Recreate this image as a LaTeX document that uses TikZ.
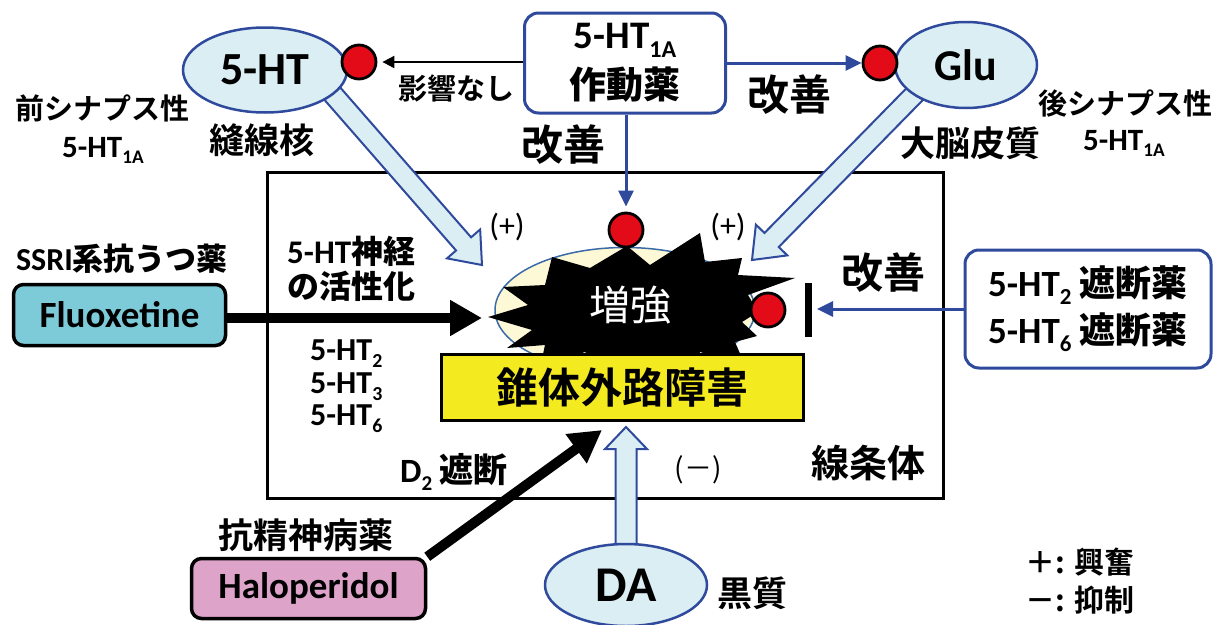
\documentclass[tikz,border=0pt]{standalone}
\usepackage{fontspec}
\usepackage{graphicx}
\setmainfont{Carlito}
\newfontfamily\jpb{Noto Sans CJK JP Bold}
\newfontfamily\jpr{Noto Sans CJK JP}
\usetikzlibrary{shapes.geometric,arrows.meta,calc,backgrounds}
\newcommand\fs[1]{\fontsize{#1}{#1}\selectfont}
\newcommand\J[1]{{\jpb #1}}
\newcommand\sbs[1]{\raisebox{-0.22em}{\scalebox{0.62}{#1}}}
\definecolor{myblue}{HTML}{2F4A9C}
\definecolor{lightb}{HTML}{DAEEF3}
\definecolor{myred}{HTML}{E30B17}
\definecolor{fluc}{HTML}{7DCBD9}
\definecolor{halc}{HTML}{DDA3C9}
\definecolor{yel}{HTML}{F4EA20}
\definecolor{cream}{HTML}{FDF8D6}
\definecolor{ellb}{HTML}{3A6AA8}
% hollow arrow: start, tip, half shaft, half head, head length
\newcommand\harrow[5]{%
  \coordinate (hA) at (#1);
  \coordinate (hB) at (#2);
  \coordinate (hC) at ($(hB)!#5!(hA)$);
  \draw[hol] ($(hA)!#3!90:(hB)$) -- ($(hC)!#3!-90:(hA)$) -- ($(hC)!#4!-90:(hA)$) -- (hB)
     -- ($(hC)!#4!90:(hA)$) -- ($(hC)!#3!90:(hA)$) -- ($(hA)!#3!-90:(hB)$) -- cycle;
}
\begin{document}
\begin{tikzpicture}[x=1pt,y=-1pt,
  ell/.style={ellipse, draw=myblue, line width=2.5pt, fill=lightb, inner sep=0pt},
  redc/.style={circle, draw=black, line width=2.8pt, fill=myred, minimum size=34pt, inner sep=0pt},
  rbox/.style={draw=myblue, line width=3pt, rounded corners=14pt, fill=white, inner sep=0pt},
  dbox/.style={draw=black, line width=3.5pt, rounded corners=10pt, inner sep=0pt, font=\bfseries\fs{37}},
  lab/.style={inner sep=0pt},
  jl/.style={inner sep=0pt, font=\jpb},
  bigarr/.style={draw=black, line width=10pt, -{Triangle[length=32pt,width=34pt]}},
  barr/.style={draw=myblue, line width=3pt, -{Triangle[length=16pt,width=15pt]}},
  tarr/.style={draw=black, line width=2pt, -{Triangle[length=12pt,width=12pt]}},
  hol/.style={draw=myblue, line width=2pt, fill=lightb, line join=miter}
]
\useasboundingbox (0,0) rectangle (1213,624);

% ellipses
\node[ell, minimum width=164pt, minimum height=85pt, font=\bfseries\fs{46}] (ht) at (265,70) {5-HT};
\node[ell, minimum width=142pt, minimum height=86pt, font=\bfseries\fs{44}] (glu) at (966,65) {Glu};
\node[ell, minimum width=162pt, minimum height=82pt, font=\bfseries\fs{50}] (da) at (626,585) {DA};

% boxes
\node[rbox, minimum width=201pt, minimum height=100pt, align=center, font=\bfseries\fontsize{39}{50}\selectfont] (ag) at (625,63) {5-HT\sbs{1A}\\\J{\fs{37}作動薬}};
\node[rbox, minimum width=246pt, minimum height=118pt, align=center, font=\bfseries\fontsize{37}{47}\selectfont] (ant) at (1088,309) {5-HT\sbs{2} \J{\fs{36}遮断薬}\\5-HT\sbs{6} \J{\fs{36}遮断薬}};
\node[dbox, fill=fluc, minimum width=212pt, minimum height=61pt] (flu) at (119.5,315) {Fluoxetine};
\node[dbox, fill=halc, minimum width=234pt, minimum height=60pt] (hal) at (308.5,588.5) {Haloperidol};

% centre
\node[ellipse, draw=ellb, line width=1.5pt, fill=cream, minimum width=260pt, minimum height=125pt] (cre) at (625,310) {};
\fill[black] (627,246) -- (650,265) -- (700,233) -- (705,262) -- (742,258) -- (738,275)
  -- (795,278) -- (748,295) -- (758,312) -- (742,322) -- (757,336) -- (735,342)
  -- (745,365) -- (700,352) -- (690,372) -- (650,356) -- (610,372) -- (585,352)
  -- (540,368) -- (545,345) -- (507,348) -- (532,330) -- (488,317) -- (528,305)
  -- (503,287) -- (545,285) -- (552,257) -- (590,268) -- cycle;
\node[lab, text=white, font=\jpr\fs{41}] (zk) at (630,305) {増強};
\node[draw=black, line width=3pt, fill=yel, minimum width=362pt, minimum height=66pt, inner sep=0pt, font=\jpb\fs{42}] (eps) at (622.5,387.5) {錐体外路障害};

% red circles
\node[redc] (r1) at (359,62) {};
\node[redc] (r2) at (880,63) {};
\node[redc] (r3) at (626,230) {};
\node[redc] (r4) at (768,310) {};

% inhibition bar
\coordinate (bart) at (808,283);
\coordinate (barb) at (808,337);
\draw[line width=7pt] (bart) -- (barb);

% free ends
\coordinate (flut) at (482,318);
\coordinate (halt) at (602,430);
\coordinate (htt) at (482,265);
\coordinate (glut) at (752,260);
\coordinate (dat) at (626,427);

% labels
\node[jl, font=\jpb\fs{29}] (l1) at (456,88) {影響なし};
\node[jl, font=\jpb\fs{42}] (l2) at (789,95) {改善};
\node[jl, font=\jpb\fs{42}] (l3) at (563,145) {改善};
\node[jl, font=\jpb\fs{29}] (l4) at (102,108) {前シナプス性};
\node[lab, anchor=base west, font=\bfseries\fs{31}] (l5) at (62,157) {5-HT\sbs{1A}};
\node[jl, font=\jpb\fs{35}] (l6) at (262,140) {縫線核};
\node[jl, font=\jpb\fs{35}] (l7) at (970,143) {大脳皮質};
\node[jl, font=\jpb\fs{29}] (l8) at (1125,103) {後シナプス性};
\node[lab, anchor=base west, font=\bfseries\fs{31}] (l9) at (1083,150) {5-HT\sbs{1A}};
\node[lab, font=\fs{32}] (l10) at (507,227) {(+)};
\node[lab, font=\fs{32}] (l11) at (728,227) {(+)};
\node[lab, anchor=north west, align=left, font=\bfseries\fontsize{33}{35}\selectfont] (l12) at (287,236) {5-HT\J{\fs{32}神経}\\\J{\fs{32}の活性化}};
\node[lab, font=\bfseries\fs{32}] (l14) at (122,259) {SSRI\J{\fs{31}系抗うつ薬}};
\node[lab, anchor=base west, font=\bfseries\fs{32}] (l15) at (310,360) {5-HT\sbs{2}};
\node[lab, anchor=base west, font=\bfseries\fs{32}] (l16) at (310,393) {5-HT\sbs{3}};
\node[lab, anchor=base west, font=\bfseries\fs{32}] (l17) at (310,425) {5-HT\sbs{6}};
\node[jl, font=\jpb\fs{35}] (l18) at (306,535) {抗精神病薬};
\node[lab, font=\bfseries\fs{34}] (l19) at (454,472) {D\sbs{2} \J{遮断}};
\node[lab, font=\jpr\fs{28}] (l20) at (698,470) {(－)};
\node[jl, font=\jpb\fs{38}] (l21) at (868,463) {線条体};
\node[jl, font=\jpb\fs{35}] (l22) at (752,593) {黒質};
\node[jl, anchor=west, font=\jpb\fs{30}] (l23) at (1025,562) {＋: 興奮};
\node[jl, anchor=west, font=\jpb\fs{30}] (l24) at (1025,600) {－: 抑制};
\node[jl, font=\jpb\fs{42}] (l25) at (883,273) {改善};

\begin{pgfonlayer}{background}
  \draw[line width=3pt] (267,172) rectangle (943,498);
  \harrow{$(ht.-20)!-15pt!(htt)$}{htt}{10pt}{22pt}{28pt}
  \harrow{$(glu.-150)!-15pt!(glut)$}{glut}{10pt}{22pt}{28pt}
  \harrow{da.center}{dat}{10.5pt}{21pt}{22pt}
  \draw[bigarr] (flu.east |- flut) -- (flut);
  \draw[bigarr] (hal.north east) -- (halt);
  \draw[tarr, shorten >=5pt] (ag.west |- r1) -- (r1.east);
  \draw[barr] (ag.east |- r2) -- (r2.west);
  \draw[barr, shorten >=5pt] (ag.south -| r3) -- (r3.north);
  \draw[barr, shorten >=9pt] (ant.west) -- (ant.west -| bart);
\end{pgfonlayer}
\end{tikzpicture}
\end{document}
